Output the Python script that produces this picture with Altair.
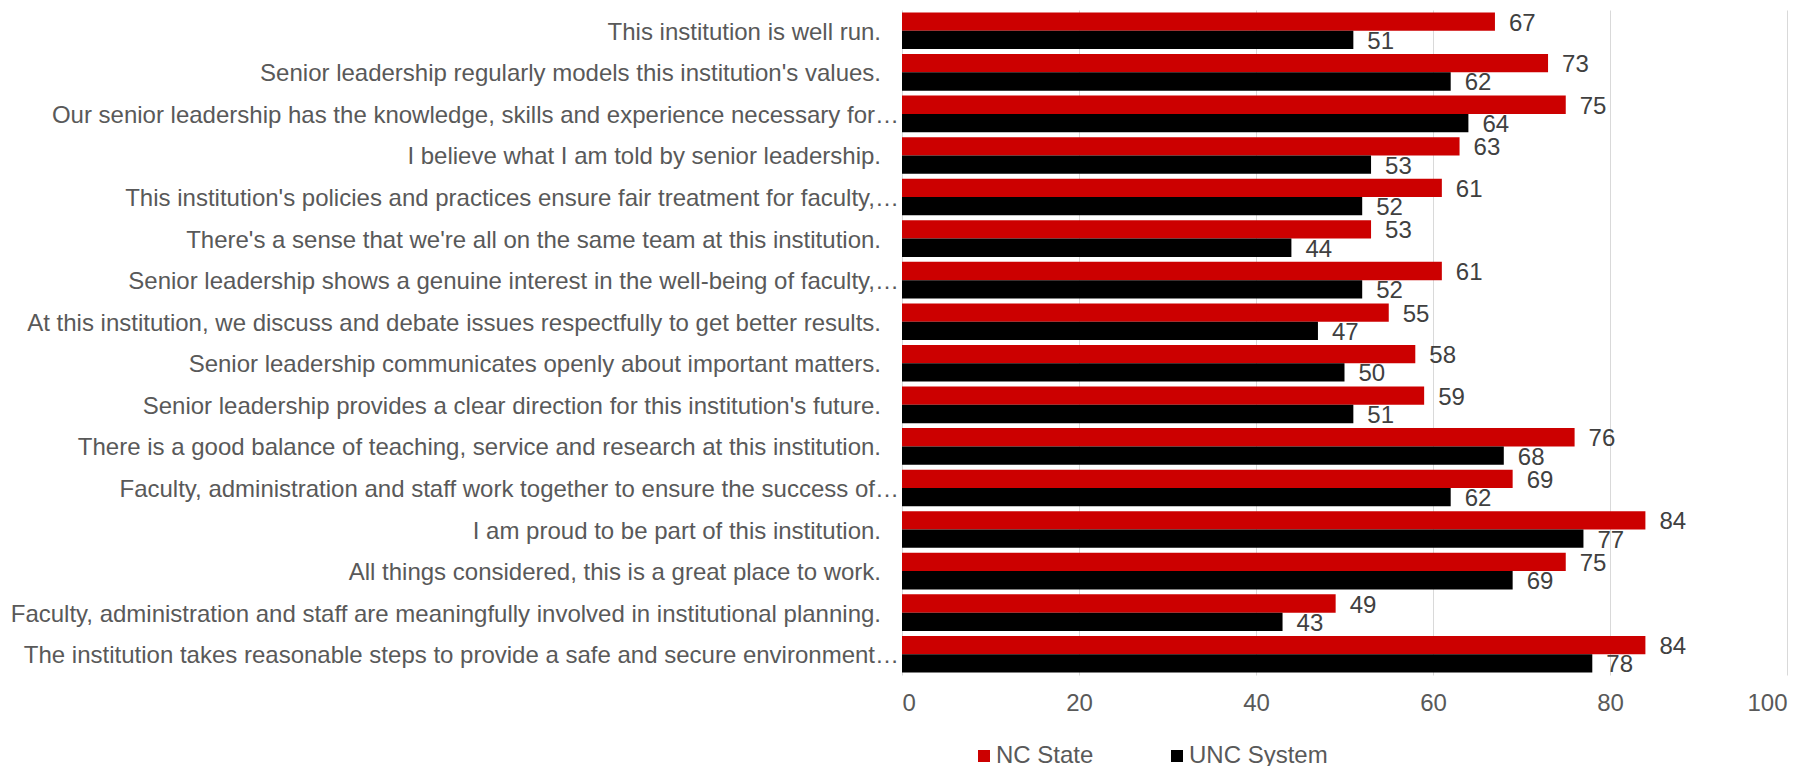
import altair as alt
import pandas as pd

questions = [
    "This institution is well run.",
    "Senior leadership regularly models this institution's values.",
    "Our senior leadership has the knowledge, skills and experience necessary for…",
    "I believe what I am told by senior leadership.",
    "This institution's policies and practices ensure fair treatment for faculty,…",
    "There's a sense that we're all on the same team at this institution.",
    "Senior leadership shows a genuine interest in the well-being of faculty,…",
    "At this institution, we discuss and debate issues respectfully to get better results.",
    "Senior leadership communicates openly about important matters.",
    "Senior leadership provides a clear direction for this institution's future.",
    "There is a good balance of teaching, service and research at this institution.",
    "Faculty, administration and staff work together to ensure the success of…",
    "I am proud to be part of this institution.",
    "All things considered, this is a great place to work.",
    "Faculty, administration and staff are meaningfully involved in institutional planning.",
    "The institution takes reasonable steps to provide a safe and secure environment…",
]
nc_state = [67, 73, 75, 63, 61, 53, 61, 55, 58, 59, 76, 69, 84, 75, 49, 84]
unc_system = [51, 62, 64, 53, 52, 44, 52, 47, 50, 51, 68, 62, 77, 69, 43, 78]
series = ["NC State", "UNC System"]
colors = ["#cc0000", "#000000"]
x_ticks = [0, 20, 40, 60, 80, 100]

rows = []
for q, a, b in zip(questions, nc_state, unc_system):
    rows.append({"q": q, "series": series[0], "value": a})
    rows.append({"q": q, "series": series[1], "value": b})
df = pd.DataFrame(rows)
qdf = pd.DataFrame({"q": questions, "trunc": [q.endswith("…") for q in questions]})

FONT = "Liberation Sans"
FS = 24

y_enc = alt.Y(
    "q:N",
    sort=questions,
    title=None,
    scale=alt.Scale(paddingInner=0.12, paddingOuter=0.06),
    axis=alt.Axis(labels=False, ticks=False, domain=False, grid=False),
)
x_enc = alt.X(
    "value:Q",
    title=None,
    scale=alt.Scale(domain=[0, 100], nice=False),
    axis=alt.Axis(
        values=x_ticks,
        grid=True,
        gridColor="#d9d9d9",
        gridWidth=1,
        domain=False,
        ticks=False,
        labelPadding=16,
        labelFont=FONT,
        labelFontSize=FS,
        labelColor="#595959",
    ),
)
yoff = alt.YOffset("series:N", sort=series)

bars = alt.Chart(df).mark_bar().encode(
    y=y_enc,
    x=x_enc,
    yOffset=yoff,
    color=alt.Color(
        "series:N",
        sort=series,
        title=None,
        scale=alt.Scale(domain=series, range=colors),
        legend=alt.Legend(
            orient="none",
            legendX=70,
            legendY=734,
            direction="horizontal",
            symbolType="square",
            symbolSize=144,
            symbolStrokeWidth=0,
            labelFont=FONT,
            labelFontSize=FS,
            labelColor="#595959",
            labelOffset=0,
            columnPadding=71,
        ),
    ),
)

values = alt.Chart(df).mark_text(
    align="left", baseline="middle", dx=14, dy=2, font=FONT, fontSize=FS, color="#404040"
).encode(
    y=alt.Y("q:N", sort=questions),
    x=alt.X("value:Q"),
    yOffset=yoff,
    text=alt.Text("value:Q"),
)

cat_full = alt.Chart(qdf).transform_filter("!datum.trunc").mark_text(
    align="right", baseline="middle", dy=2, font=FONT, fontSize=FS, color="#595959"
).encode(y=alt.Y("q:N", sort=questions), x=alt.value(-21), text="q:N")

cat_trunc = alt.Chart(qdf).transform_filter("datum.trunc").mark_text(
    align="right", baseline="middle", dy=2, font=FONT, fontSize=FS, color="#595959"
).encode(y=alt.Y("q:N", sort=questions), x=alt.value(-3), text="q:N")

chart = (
    alt.layer(bars, values, cat_full, cat_trunc)
    .properties(
        width=885,
        height=665,
        autosize=alt.AutoSizeParams(type="none"),
        padding={"left": 894, "top": 2, "right": 15, "bottom": 91},
    )
    .configure_view(stroke=None)
)

chart.save("out.html", embed_options={"renderer": "svg", "actions": False})
